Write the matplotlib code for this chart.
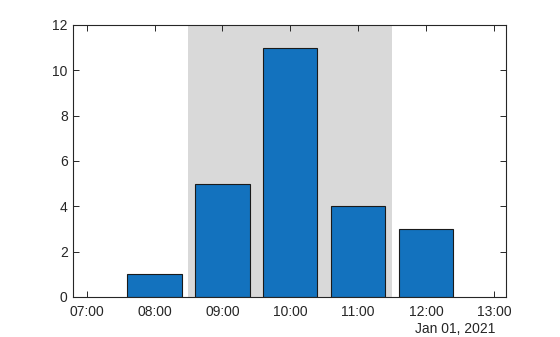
import datetime as dt
import matplotlib
matplotlib.use("Agg")
import matplotlib.pyplot as plt
import matplotlib.dates as mdates

plt.rcParams["font.family"] = ["Liberation Sans", "DejaVu Sans"]
plt.rcParams["font.size"] = 10

# data
hours = [8, 9, 10, 11, 12]
counts = [1, 5, 11, 4, 3]
shade_start = (8, 30)
shade_end = (11, 30)
date_label = "Jan 01, 2021"

day = dt.datetime(2021, 1, 1)
times = [day + dt.timedelta(hours=h) for h in hours]

fig = plt.figure(figsize=(5.6, 3.37), dpi=100)
ax = fig.add_axes([73.3 / 560, 1 - 297 / 337, (506 - 73.3) / 560, (297 - 25) / 337])

ax.axvspan(day + dt.timedelta(hours=shade_start[0], minutes=shade_start[1]),
           day + dt.timedelta(hours=shade_end[0], minutes=shade_end[1]),
           color="#d9d9d9", lw=0, zorder=0)
ax.bar(times, counts, width=0.8 / 24, color="#1372be", edgecolor="#1a1a1a",
       linewidth=0.8, zorder=2)

ax.set_xlim(day + dt.timedelta(hours=6.804), day + dt.timedelta(hours=13.177))
ax.set_ylim(0, 12)
ax.set_yticks(range(0, 13, 2))
ax.xaxis.set_major_locator(mdates.HourLocator())
ax.xaxis.set_major_formatter(mdates.DateFormatter("%H:%M"))

ax.tick_params(direction="in", length=4, width=0.7, colors="#262626",
               top=True, right=True, labelcolor="#262626", pad=4)
ax.tick_params(axis="x", pad=6)
for sp in ax.spines.values():
    sp.set_linewidth(0.8)
    sp.set_color("#262626")
    sp.set_zorder(3)

fig.text(495 / 560, 1 - 329 / 337, date_label, ha="right", va="center",
         color="#262626", fontsize=10)

fig.savefig("out.png", dpi=100)
